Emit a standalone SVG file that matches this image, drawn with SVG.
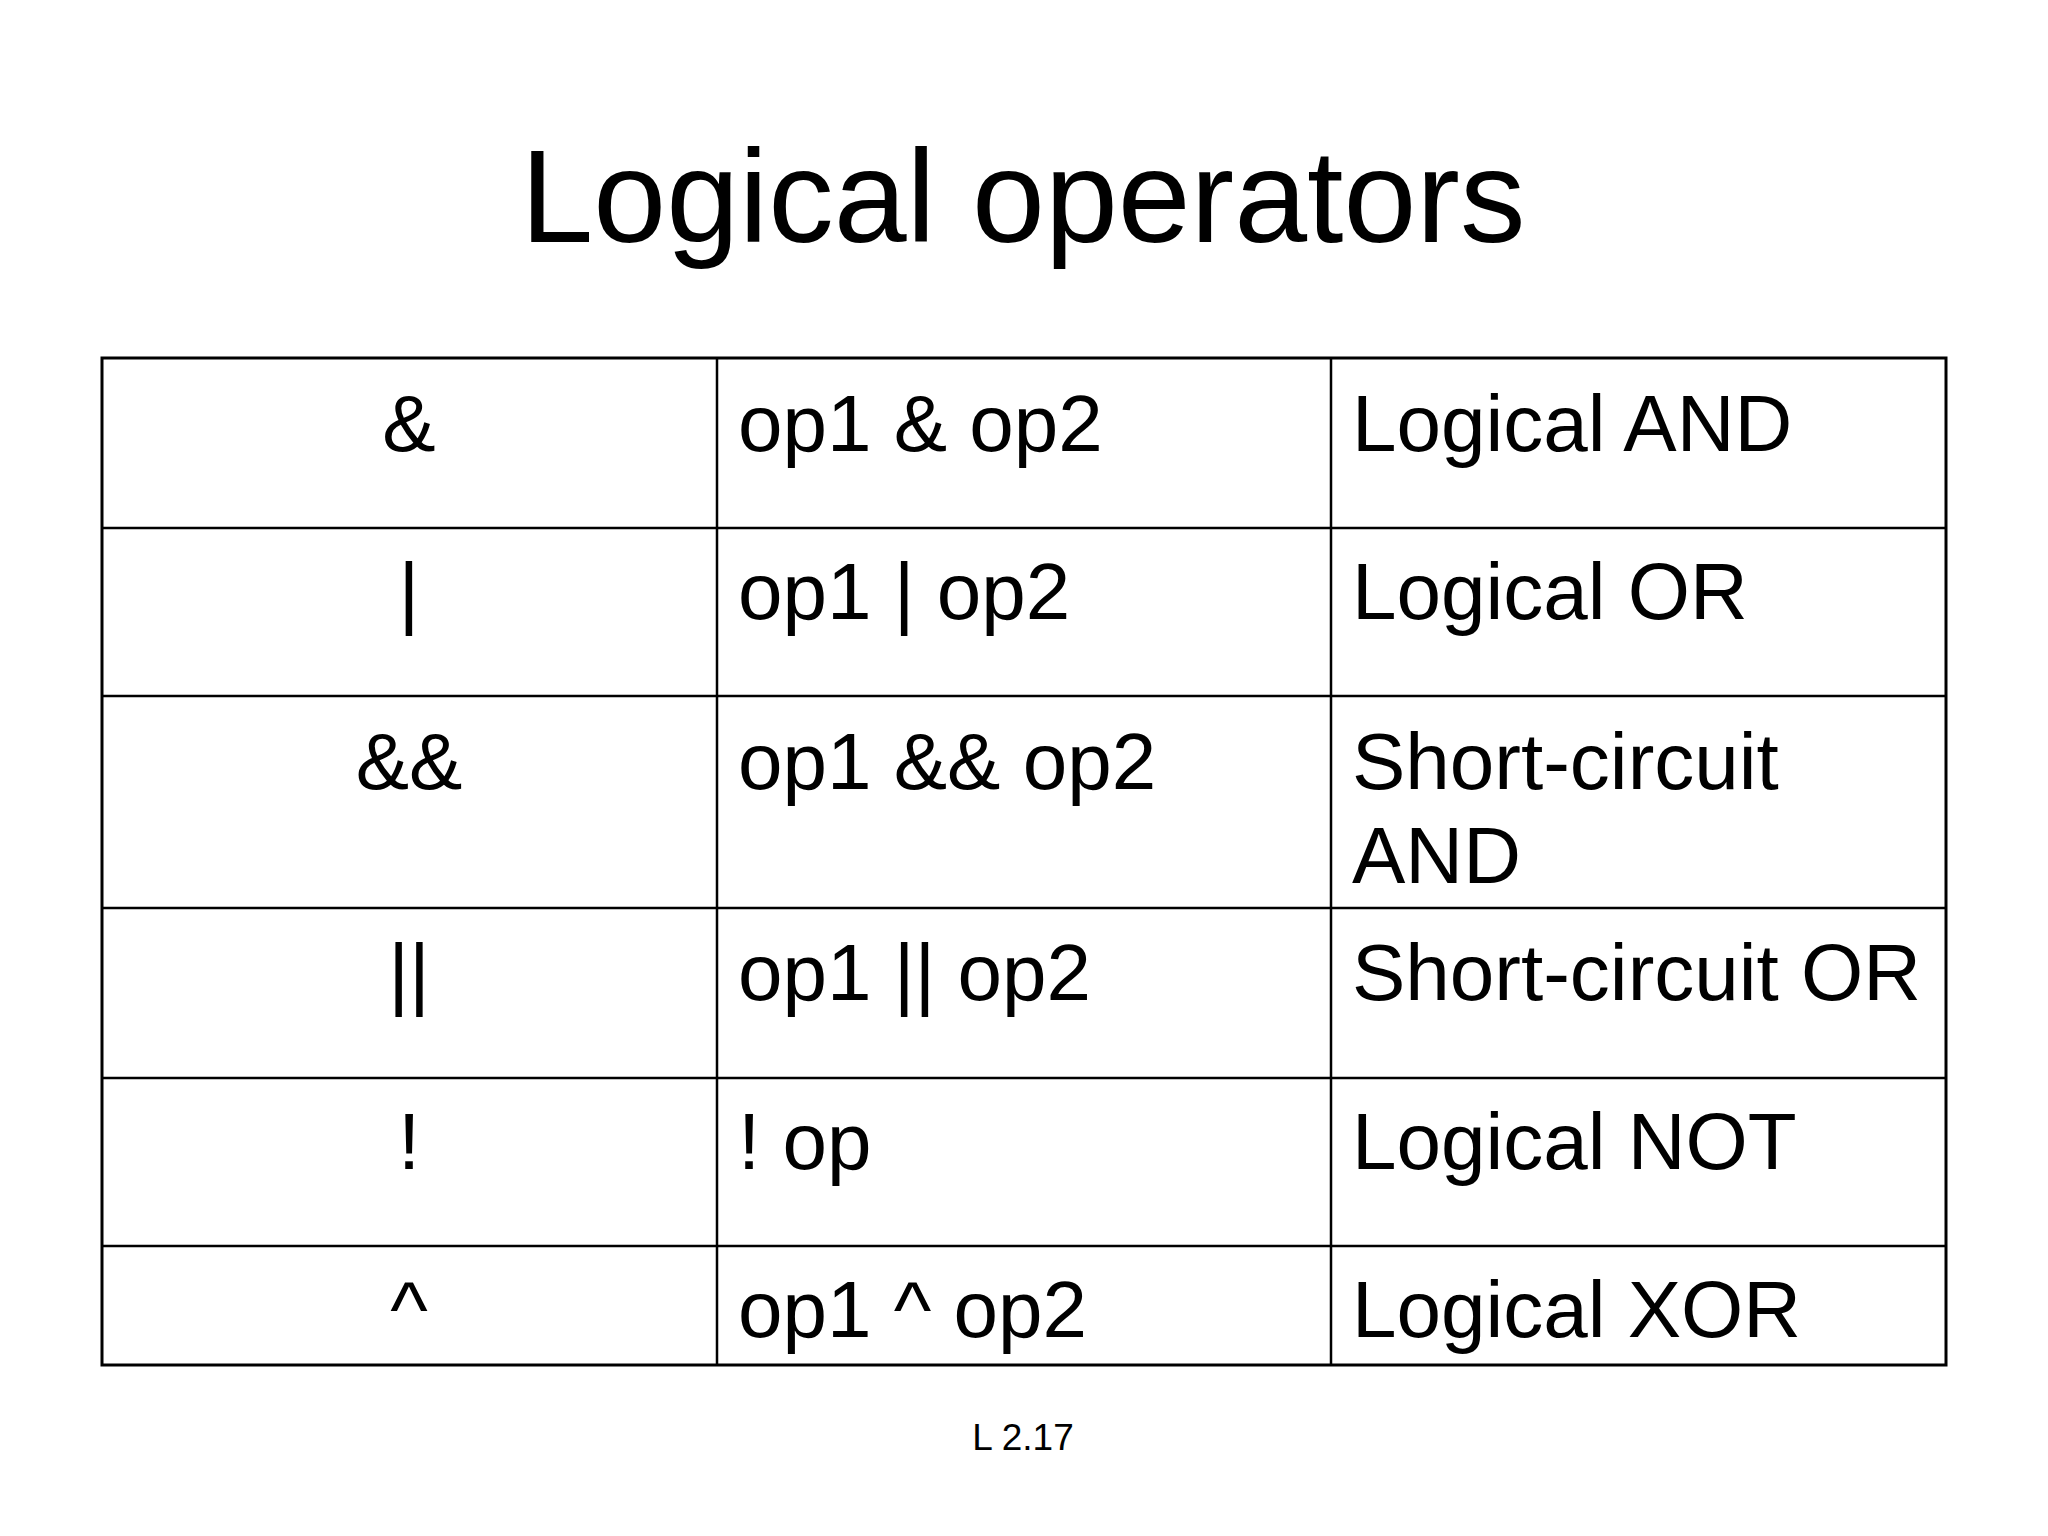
<svg xmlns="http://www.w3.org/2000/svg" width="2048" height="1536" viewBox="0 0 2048 1536">
<style>
text{font-family:"Liberation Sans",Arial,sans-serif;fill:#000}
.c{font-size:80px}
.m{text-anchor:middle}
line{stroke:#000;stroke-width:2.5}
</style>
<rect width="2048" height="1536" fill="#fff"/>
<text x="1023" y="242" font-size="131" class="m">Logical operators</text>
<g id="table">
<rect x="102" y="358" width="1844" height="1007" fill="none" stroke="#000" stroke-width="3"/>
<line x1="717" y1="358" x2="717" y2="1365"/>
<line x1="1331" y1="358" x2="1331" y2="1365"/>
<line x1="102" y1="528" x2="1946" y2="528"/>
<line x1="102" y1="696" x2="1946" y2="696"/>
<line x1="102" y1="908" x2="1946" y2="908"/>
<line x1="102" y1="1078" x2="1946" y2="1078"/>
<line x1="102" y1="1246" x2="1946" y2="1246"/>
</g>
<g id="r1"><text class="c m" x="409" y="451">&amp;</text><text class="c" x="738" y="451">op1 &amp; op2</text><text class="c" x="1352" y="451">Logical AND</text></g>
<g id="r2"><text class="c m" x="409" y="619">|</text><text class="c" x="738" y="619">op1 | op2</text><text class="c" x="1352" y="619">Logical OR</text></g>
<g id="r3"><text class="c m" x="409" y="789">&amp;&amp;</text><text class="c" x="738" y="789">op1 &amp;&amp; op2</text><text class="c" x="1352" y="789">Short-circuit</text><text class="c" x="1352" y="883">AND</text></g>
<g id="r4"><text class="c m" x="409" y="1000">||</text><text class="c" x="738" y="1000">op1 || op2</text><text class="c" x="1352" y="1000">Short-circuit OR</text></g>
<g id="r5"><text class="c m" x="409" y="1169">!</text><text class="c" x="738" y="1169">! op</text><text class="c" x="1352" y="1169">Logical NOT</text></g>
<g id="r6"><text class="c m" x="409" y="1337">^</text><text class="c" x="738" y="1337">op1 ^ op2</text><text class="c" x="1352" y="1337">Logical XOR</text></g>
<text x="1023" y="1450" font-size="37" class="m">L 2.17</text>
</svg>
